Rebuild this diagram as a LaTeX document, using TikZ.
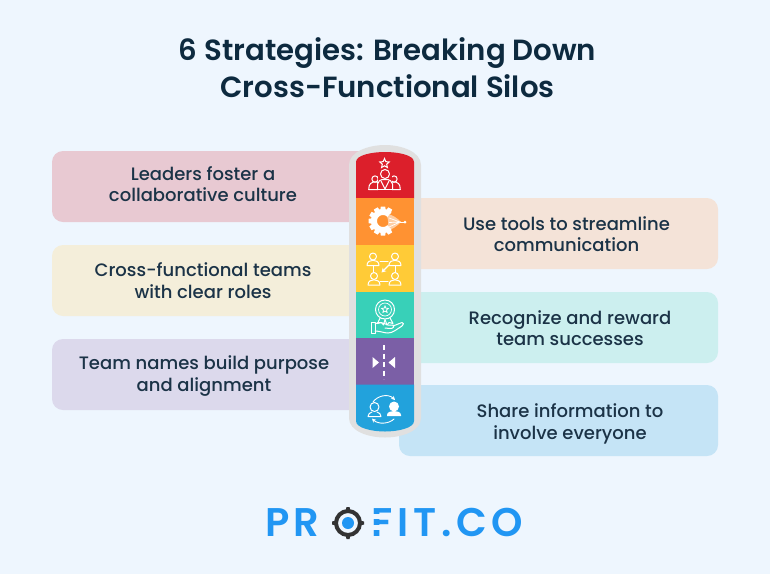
\documentclass[tikz,border=0pt]{standalone}
\usepackage{fontspec}
\setmainfont{Poppins}
\newfontfamily\bodyfont{Poppins Medium}
\newfontfamily\titlefont{Poppins SemiBold}
\newfontfamily\logofont[LetterSpace=9]{Poppins SemiBold}
\newfontfamily\logofontb[LetterSpace=12]{Poppins SemiBold}
\usetikzlibrary{arrows.meta,shapes.geometric}
\definecolor{bgc}{HTML}{EEF6FE}
\definecolor{titlec}{HTML}{0D2A3F}
\definecolor{textc}{HTML}{1B3347}
\definecolor{pinkc}{HTML}{E8C9D2}
\definecolor{creamc}{HTML}{F4EEDA}
\definecolor{lavc}{HTML}{DCD9EC}
\definecolor{peachc}{HTML}{F4E3D8}
\definecolor{tealc}{HTML}{CCEFEF}
\definecolor{bluec}{HTML}{C5E4F6}
\definecolor{pillc}{HTML}{E0E0E0}
\definecolor{s1}{HTML}{DC1F2B}
\definecolor{s2}{HTML}{FF9232}
\definecolor{s3}{HTML}{FFCB37}
\definecolor{s4}{HTML}{38D0B8}
\definecolor{s5}{HTML}{7B5FA6}
\definecolor{s6}{HTML}{22A2DC}
\definecolor{logoc}{HTML}{2196F3}
\definecolor{logod}{HTML}{333333}
\tikzset{
  card/.style={fill=#1,rounded corners=11pt,minimum width=319pt,minimum height=71pt,inner sep=0pt,draw=none},
  cardtext/.style={text=textc,font=\bodyfont\fontsize{18}{21.5}\selectfont,align=center,inner sep=0pt},
  icon/.style={draw=white,line width=1pt,line cap=round,line join=round},
  logotext/.style={text=logoc,font=\logofont\fontsize{40}{40}\selectfont,inner sep=0pt,anchor=base west},
}
\newcommand{\personico}[3]{% x, y of head, scale
  \draw[icon] (#1,#2) circle[radius=#3*3];
  \draw[icon] ({#1-#3*6},{#2+#3*10}) .. controls ({#1-#3*6},{#2+#3*4}) and ({#1-#3*3},{#2+#3*3.5}) .. ({#1-#3*2},{#2+#3*3}) -- ({#1+#3*2},{#2+#3*3}) .. controls ({#1+#3*3},{#2+#3*3.5}) and ({#1+#3*6},{#2+#3*4}) .. ({#1+#3*6},{#2+#3*10}) -- cycle;
}
\begin{document}
\begin{tikzpicture}[x=1pt,y=-1pt]
\useasboundingbox (0,0) rectangle (770,574);
\fill[bgc] (0,0) rectangle (770,574);
\node[text=titlec,font=\titlefont\fontsize{29.2}{37}\selectfont,align=center,inner sep=0pt] (title) at (387.5,68) {6 Strategies: Breaking Down\\Cross-Functional Silos};
% cards
\node[card=pinkc]  (c1) at (211.5,186.5) {};
\node[card=creamc] (c2) at (211.5,280.5) {};
\node[card=lavc]   (c3) at (211.5,374.5) {};
\node[card=peachc] (c4) at (558.5,233.5) {};
\node[card=tealc]  (c5) at (558.5,327.5) {};
\node[card=bluec]  (c6) at (558.5,420.5) {};
\node[cardtext] (t1) at (203,184) {Leaders foster a\\collaborative culture};
\node[cardtext] (t2) at (203,280.5) {Cross-functional teams\\with clear roles};
\node[cardtext] (t3) at (204,376) {Team names build purpose\\and alignment};
\node[cardtext] (t4) at (566.5,234) {Use tools to streamline\\communication};
\node[cardtext] (t5) at (570,328) {Recognize and reward\\team successes};
\node[cardtext] (t6) at (570,424) {Share information to\\involve everyone};
% pill
\fill[pillc] (349,165) .. controls (349,152) and (368,145) .. (385,145) .. controls (402,145) and (421,152) .. (421,165) -- (421,418) .. controls (421,431) and (402,437.5) .. (385,437.5) .. controls (368,437.5) and (349,431) .. (349,418) -- cycle;
\fill[s1] (356,162) .. controls (356,155) and (372,152) .. (385,152) .. controls (398,152) and (414,155) .. (414,162) -- (414,198.5) -- (356,198.5) -- cycle;
\fill[s2] (356,198) rectangle (414,245);
\fill[s3] (356,245) rectangle (414,291.5);
\fill[s4] (356,291.5) rectangle (414,338);
\fill[s5] (356,338) rectangle (414,384.5);
\fill[s6] (356,384.5) -- (414,384.5) -- (414,421) .. controls (414,428) and (398,431.5) .. (385,431.5) .. controls (372,431.5) and (356,428) .. (356,421) -- cycle;
% icon 1: team leader
\node[star,star points=5,star point ratio=2.2,draw=white,line width=1pt,minimum size=10pt,inner sep=0pt] (ic1star) at (384.5,163.5) {};
\personico{375}{179}{1.05}
\personico{394}{179}{1.05}
\fill[s1] (378,173) rectangle (392,191);
\draw[icon] (385,174) circle[radius=4.5];
\draw[icon] (377.5,189.5) -- (377.5,184) .. controls (377.5,181) and (381,180) .. (382,179.5) -- (388,179.5) .. controls (389,180) and (392.5,181) .. (392.5,184) -- (392.5,189.5);
\draw[icon] (381,181) -- (385,189) -- (389,181);
\draw[icon] (369,189.5) -- (400,189.5);
% icon 2: gear and pen
\foreach \a in {60,90,120,150,180,210,240,270,300}{
  \fill[white,shift={(383,221)},rotate=\a] (10,-2.8) -- (14.5,-2.2) -- (14.5,2.2) -- (10,2.8) -- cycle;
}
\draw[white,line width=6pt] plot[domain=45:315,samples=40] ({383+9*cos(\x)},{221+9*sin(\x)});
\fill[white,opacity=.55] (386,214) .. controls (392,214) and (397,218) .. (401,222) .. controls (397,226) and (392,230) .. (386,231) .. controls (389,225) and (389,220) .. (386,214) -- cycle;
\draw[white,line width=.7pt] (389,218) -- (400,222) (389,222.5) -- (401,222) (389,227) -- (400,222);
\draw[white,line width=1pt] (400,222) -- (404,222);
\fill[white] (405,222) circle[radius=1.5];
% icon 3: four people
\draw[icon] (373,262) -- (373,272) (395,262) -- (395,272) (380,261) -- (388,261) (380,281) -- (388,281);
\draw[icon,line width=1.2pt,-{Stealth[length=4.5pt,width=5pt]}] (389,265) -- (381.5,272.5);
\foreach \px/\py in {373/256.5,395/256.5,374/276,395/276}{
  \draw[icon,fill=s3] (\px,\py) circle[radius=3.5];
  \draw[icon,fill=s3] ({\px-6},{\py+9}) .. controls ({\px-6},{\py+5}) and ({\px-3},{\py+3.8}) .. (\px,{\py+3.8}) .. controls ({\px+3},{\py+3.8}) and ({\px+6},{\py+5}) .. ({\px+6},{\py+9}) -- cycle;
}
% icon 4: award in hand
\draw[icon] (381,316) -- (377.5,323.5) -- (381.5,322.5) -- (383.5,325) -- (385,319.5) -- (387,325) -- (389,322.5) -- (393,323.5) -- (389,316);
\draw[icon,fill=s4] (385,309.5) circle[radius=9.5];
\draw[icon,line width=.7pt] (385,309.5) circle[radius=6.5];
\node[star,star points=5,star point ratio=2.2,draw=white,line width=.8pt,minimum size=7pt,inner sep=0pt] (ic4star) at (385,309.5) {};
\draw[icon] (371,322) rectangle (375,333);
\draw[icon] (375,324) .. controls (379,321) and (383,323) .. (388,325) -- (393,325) .. controls (395,326) and (393,329) .. (390,328.5) -- (385,328) (393,326) -- (402,322.5) .. controls (404,322) and (404,325) .. (402,326) .. controls (397,329) and (393,333) .. (388,333) .. controls (384,333) and (380,331) .. (375,331);
% icon 5: two triangles
\draw[white,line width=2pt,dash pattern=on 5pt off 3.5pt] (384,345) -- (384,379);
\fill[white] (372.5,357) -- (379,362.5) -- (372.5,368) -- cycle;
\fill[white] (395,357) -- (388.5,362.5) -- (395,368) -- cycle;
% icon 6: exchange
\draw[icon] (374.5,407) circle[radius=4.5];
\draw[icon] (368,416.5) .. controls (368,414) and (370,412.5) .. (372,412) (377,412) .. controls (379,412.5) and (381,414) .. (381,416.5) -- (368,416.5);
\fill[white] (394,406.5) circle[radius=5];
\fill[white] (387,415) .. controls (387,412) and (391,411) .. (394,411) .. controls (397,411) and (401,412) .. (401,415) -- (401,416) -- (387,416) -- cycle;
\draw[icon,line width=.9pt,-{Stealth[length=4pt,width=4pt]}] (373,402) .. controls (377,396) and (388,393) .. (395,400);
\draw[icon,line width=.9pt,-{Stealth[length=4pt,width=4pt]}] (394,419) .. controls (389,424) and (378,424.5) .. (372,418.5);
% logo
\node[logotext] (logoa) at (265,536) {PR};
\draw[logod,line width=4pt] (348,523) circle[radius=12];
\foreach \dx/\dy in {0/-1,1/0,0/1,-1/0}{
  \fill[logod] ({348+12*\dx-2.5*abs(\dy)},{523+12*\dy-2.5*abs(\dx)}) -- ({348+16*\dx-1.5*abs(\dy)},{523+16*\dy-1.5*abs(\dx)}) -- ({348+16*\dx+1.5*abs(\dy)},{523+16*\dy+1.5*abs(\dx)}) -- ({348+12*\dx+2.5*abs(\dy)},{523+12*\dy+2.5*abs(\dx)}) -- cycle;
}
\fill[logoc] (348,523) circle[radius=6];
\node[logotext,font=\logofontb\fontsize{40}{40}\selectfont] (logob) at (371,536) {FIT.CO};
\fill[bgc] (372,513.5) rectangle (381,518.5);
\fill[bgc] (372,524.5) rectangle (381,530);
\end{tikzpicture}
\end{document}
